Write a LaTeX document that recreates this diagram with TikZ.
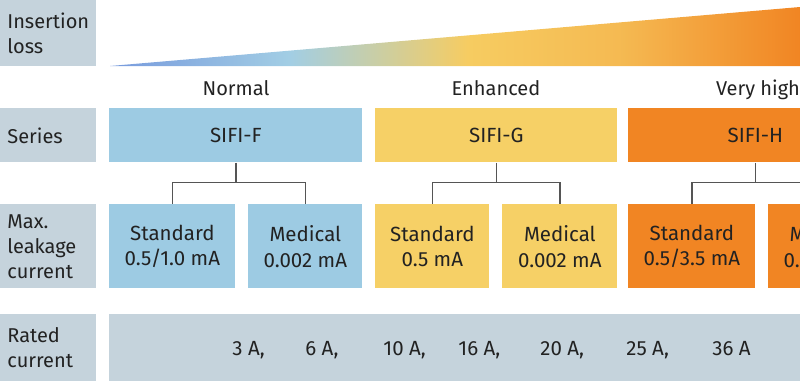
\documentclass[tikz,border=0pt]{standalone}
\usepackage{fontspec}
\setmainfont{Fira Sans}
\definecolor{labelgray}{HTML}{C5D3DC}
\definecolor{seriesblue}{HTML}{9DCBE3}
\definecolor{seriesyellow}{HTML}{F6D066}
\definecolor{seriesorange}{HTML}{F18523}
\definecolor{textdark}{HTML}{222222}
\definecolor{branchgray}{HTML}{555555}
\pgfdeclarehorizontalshading{lossshade}{100bp}{color(0bp)=(seriesblue!80!blue!95!black);
  color(25bp)=(seriesblue!80!blue!95!black); color(38bp)=(seriesblue!95!white);
  color(45bp)=(seriesyellow!55!seriesblue); color(51bp)=(seriesyellow!95!orange);
  color(62bp)=(seriesorange!30!seriesyellow); color(75bp)=(seriesorange); color(100bp)=(seriesorange)}

\tikzset{every picture/.style={line width=0.75pt}}
\tikzset{
  rowlabel/.style={fill=labelgray, anchor=north west, minimum width=96, inner xsep=7, inner ysep=0,
    text width=82, align=left, text=textdark, font=\fontsize{20}{25}\selectfont},
  box/.style={anchor=north west, inner sep=0, align=center, text=textdark, font=\fontsize{20.5}{25.5}\selectfont},
  level/.style={anchor=base, inner sep=0, text=textdark, font=\fontsize{20}{25}\selectfont},
  amp/.style={anchor=base west, inner sep=0, text=textdark, font=\fontsize{20.5}{25}\selectfont},
  branch/.style={draw=branchgray, line width=1.3pt}
}

\begin{document}
\begin{tikzpicture}[x=1pt,y=1pt,yscale=-1]
\useasboundingbox (0,0) rectangle (800,381);
\clip (0,0) rectangle (800,381);

% Row labels
\node[rowlabel, minimum height=66] (lblLoss) at (0,0) {Insertion\\loss};
\node[rowlabel, minimum height=54] (lblSeries) at (0,108) {Series};
\node[rowlabel, minimum height=84] (lblLeak) at (0,204) {Max.\\leakage\\current};
\node[rowlabel, minimum height=67] (lblRated) at (0,314) {Rated\\current};

% Insertion loss wedge
\shade[shading=lossshade] (110,66) -- (800,7) -- (800,66) -- cycle;

% Text Node
\node[level] (lvNormal) at (236,95) {Normal};
% Text Node
\node[level] (lvEnhanced) at (496,95) {Enhanced};
% Text Node
\node[level] (lvVeryHigh) at (758,95) {Very high};

% Series boxes
\node[box, fill=seriesblue, minimum width=253, minimum height=54] (sifiF) at (109,108) {SIFI-F};
\node[box, fill=seriesyellow, minimum width=242, minimum height=54] (sifiG) at (375,108) {SIFI-G};
\node[box, fill=seriesorange, minimum width=254, minimum height=54] (sifiH) at (628,108) {SIFI-H};

% Leakage boxes
\node[box, fill=seriesblue, minimum width=126, minimum height=84] (fStd) at (109,204) {Standard\\0.5/1.0 mA};
\node[box, fill=seriesblue, minimum width=114, minimum height=84] (fMed) at (248,204) {Medical\\0.002 mA};
\node[box, fill=seriesyellow, minimum width=114, minimum height=84] (gStd) at (375,204) {Standard\\0.5 mA};
\node[box, fill=seriesyellow, minimum width=115, minimum height=84] (gMed) at (502,204) {Medical\\0.002 mA};
\node[box, fill=seriesorange, minimum width=127, minimum height=84] (hStd) at (628,204) {Standard\\0.5/3.5 mA};
\node[box, fill=seriesorange, minimum width=114, minimum height=84] (hMed) at (768,204) {Medical\\0.002 mA};

% Branches
\draw[branch] (sifiF.south) -- ++(0,20) -| (fStd.north);
\draw[branch] (sifiF.south) -- ++(0,20) -| (fMed.north);
\draw[branch] (sifiG.south) -- ++(0,20) -| (gStd.north);
\draw[branch] (sifiG.south) -- ++(0,20) -| (gMed.north);
\draw[branch] (sifiH.south) -- ++(0,20) -| (hStd.north);
\draw[branch] (sifiH.south) -- ++(0,20) -| (hMed.north);

% Rated current row
\node[box, fill=labelgray, minimum width=700, minimum height=67] (ratedRow) at (109,314) {};
\node[amp] (a3) at (232,355) {3 A,};
\node[amp] (a6) at (305,355) {6 A,};
\node[amp] (a10) at (383,355) {10 A,};
\node[amp] (a16) at (458,355) {16 A,};
\node[amp] (a20) at (540,355) {20 A,};
\node[amp] (a25) at (626,355) {25 A,};
\node[amp] (a36) at (712,355) {36 A};

\end{tikzpicture}
\end{document}
